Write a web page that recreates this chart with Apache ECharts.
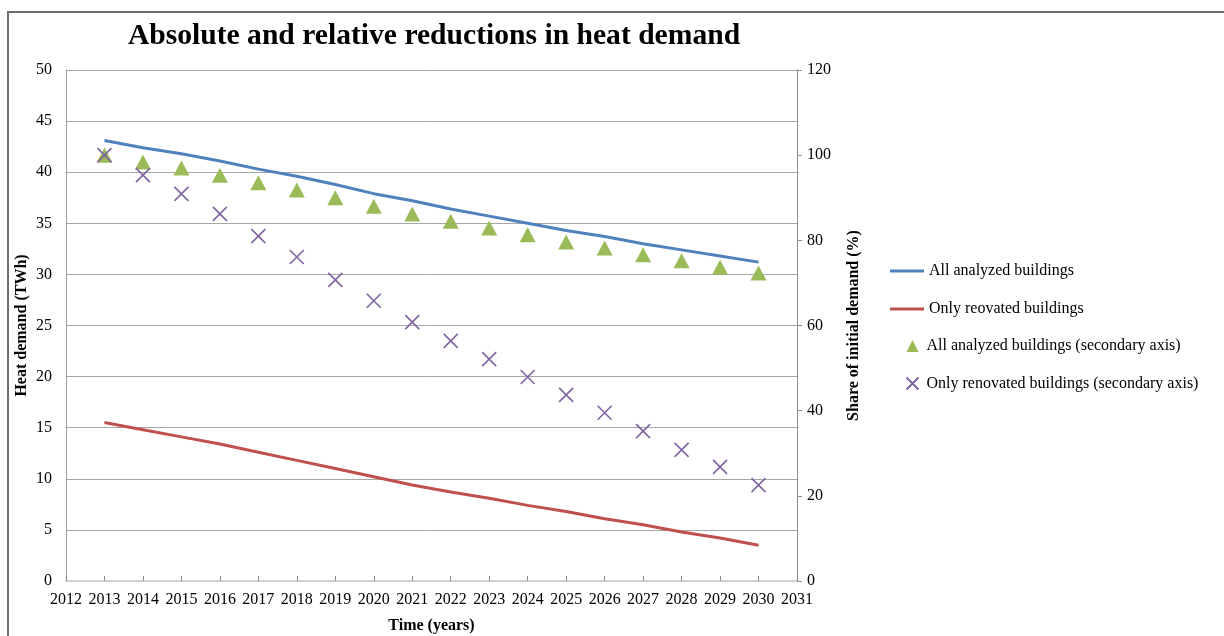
<!DOCTYPE html>
<html>
<head>
<meta charset="utf-8">
<script src="https://cdn.jsdelivr.net/npm/echarts@6/dist/echarts.min.js"></script>
<style>html,body{margin:0;padding:0;background:#fff}#c{width:1224px;height:636px}</style>
</head>
<body>
<div id="c"></div>
<script>
const years = [2013,2014,2015,2016,2017,2018,2019,2020,2021,2022,2023,2024,2025,2026,2027,2028,2029,2030];
const allBuildingsTWh = [43.1,42.4,41.8,41.1,40.3,39.6,38.8,37.9,37.2,36.4,35.7,35.0,34.3,33.7,33.0,32.4,31.8,31.2];
const renovatedTWh = [15.5,14.8,14.1,13.4,12.6,11.8,11.0,10.2,9.4,8.7,8.1,7.4,6.8,6.1,5.5,4.8,4.2,3.5];
const allBuildingsPct = [100,98.4,97,95.3,93.5,91.8,90,88,86.2,84.5,82.9,81.3,79.6,78.2,76.6,75.2,73.7,72.3];
const renovatedPct = [100,95.3,90.9,86.2,81,76.1,70.7,65.8,60.8,56.4,52.1,47.9,43.7,39.5,35.2,30.8,26.8,22.5];
const seriesNames = ['All analyzed buildings','Only reovated buildings','All analyzed buildings (secondary axis)','Only renovated buildings (secondary axis)'];

const pair = arr => years.map((y,i)=>[y,arr[i]]);
const font = '"Liberation Serif", "Times New Roman", serif';
const chart = echarts.init(document.getElementById('c'));
chart.setOption({
  animation:false,
  textStyle:{fontFamily:font},
  title:{text:'Absolute and relative reductions in heat demand',left:429,top:16,textAlign:'center',
    textStyle:{fontFamily:font,fontSize:29.6,fontWeight:'bold',color:'#000'}},
  graphic:[{type:'rect',shape:{x:8,y:12,width:1230,height:640},style:{fill:'none',stroke:'#6e6e6e',lineWidth:2},silent:true}],
  grid:{left:66,right:427,top:70,bottom:55,outerBoundsMode:'none',containLabel:false},
  legend:[
    {orient:'vertical',left:885,top:258,itemWidth:34,itemHeight:3,itemGap:22,
     textStyle:{fontFamily:font,fontSize:16,color:'#000'},
     data:[{name:seriesNames[0],icon:'rect'},{name:seriesNames[1],icon:'rect'}]},
    {orient:'vertical',left:899,top:333,itemWidth:12,itemHeight:12,itemGap:21,
     textStyle:{fontFamily:font,fontSize:16,color:'#000',padding:[0,0,0,3]},
     data:[seriesNames[2],seriesNames[3]]}
  ],
  xAxis:{type:'value',min:2012,max:2031,interval:1,
    name:'Time (years)',nameLocation:'middle',nameGap:37,nameMoveOverlap:false,
    nameTextStyle:{fontFamily:font,fontSize:16,fontWeight:'bold',color:'#000'},
    axisLine:{lineStyle:{color:'#d0d0d0',width:2}},
    axisTick:{show:true,inside:true,length:5,lineStyle:{color:'#888'}},
    axisLabel:{fontFamily:font,fontSize:16,color:'#000',margin:11,formatter:v=>String(v)},
    splitLine:{show:false}},
  yAxis:[
    {type:'value',min:0,max:50,interval:5,position:'left',
     name:'Heat demand (TWh)',nameLocation:'middle',nameGap:36,nameMoveOverlap:false,
     nameTextStyle:{fontFamily:font,fontSize:16,fontWeight:'bold',color:'#000'},
     axisLine:{show:true,lineStyle:{color:'#a0a0a0'}},axisTick:{show:false},
     axisLabel:{fontFamily:font,fontSize:16,color:'#000',margin:14},
     splitLine:{lineStyle:{color:'#a6a6a6',width:1}}},
    {type:'value',min:0,max:120,interval:20,position:'right',
     name:'Share of initial demand (%)',nameLocation:'middle',nameGap:49,nameRotate:90,nameMoveOverlap:false,
     nameTextStyle:{fontFamily:font,fontSize:16,fontWeight:'bold',color:'#000'},
     axisLine:{show:true,lineStyle:{color:'#8c8c8c'}},axisTick:{show:true,length:5,lineStyle:{color:'#8c8c8c'}},
     axisLabel:{fontFamily:font,fontSize:16,color:'#000',margin:10},
     splitLine:{show:false}}
  ],
  series:[
    {name:seriesNames[0],type:'line',yAxisIndex:0,data:pair(allBuildingsTWh),showSymbol:false,symbol:'none',
     lineStyle:{color:'#4f81bd',width:3},itemStyle:{color:'#4f81bd'}},
    {name:seriesNames[1],type:'line',yAxisIndex:0,data:pair(renovatedTWh),showSymbol:false,symbol:'none',
     lineStyle:{color:'#c0504d',width:3},itemStyle:{color:'#c0504d'}},
    {name:seriesNames[2],type:'scatter',yAxisIndex:1,data:pair(allBuildingsPct),symbol:'triangle',symbolSize:[16,15],
     itemStyle:{color:'#9bbb59',opacity:1}},
    {name:seriesNames[3],type:'scatter',yAxisIndex:1,data:pair(renovatedPct),
     symbol:'path://M0,0L10,10M10,0L0,10',symbolSize:14,
     itemStyle:{color:'none',borderColor:'#8064a2',borderWidth:1.6,opacity:1}}
  ]
});
</script>
</body>
</html>
